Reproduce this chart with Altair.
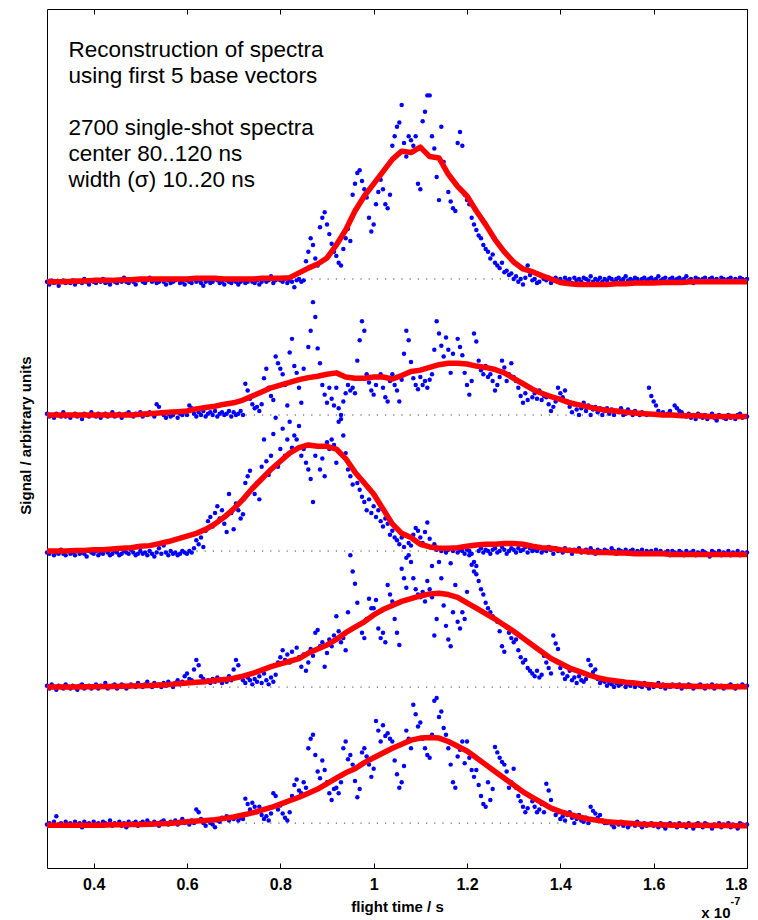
import altair as alt
import numpy as np
import pandas as pd

# ---------------- data ----------------
X_DOMAIN = [0.3, 1.8]
Y_DOMAIN = [-0.33, 5.985]
X_TICKS = [0.4, 0.6, 0.8, 1.0, 1.2, 1.4, 1.6, 1.8]
RED_X0, RED_STEP = 0.3, 0.02      # x grid of the reconstructions
BLUE_X0, BLUE_STEP = 0.3, 0.005   # x grid of the single-shot samples
OFFSETS = [4, 3, 2, 1, 0]         # vertical offset of each spectrum (top -> bottom)

RED_1 = [-0.02, -0.02, -0.02, -0.015, -0.015, -0.01, -0.01, -0.01, -0.005, -0.005,
         0.0, 0.0, 0.0, 0.0, 0.0, 0.0, 0.005, 0.005, 0.005, 0.0,
         0.0, 0.0, 0.0, 0.005, 0.005, 0.005, 0.01, 0.045, 0.08, 0.11,
         0.155, 0.25, 0.36, 0.50, 0.61, 0.70, 0.79, 0.88, 0.94, 0.93,
         0.97, 0.90, 0.89, 0.77, 0.68, 0.61, 0.50, 0.40, 0.29, 0.20,
         0.125, 0.074, 0.054, 0.025, 0.0, -0.025, -0.035, -0.04, -0.04, -0.04,
         -0.04, -0.035, -0.035, -0.03, -0.03, -0.03, -0.025, -0.025, -0.025, -0.02,
         -0.02, -0.02, -0.02, -0.02, -0.02, -0.02]
RED_2 = [0.0, 0.0, 0.0, 0.0, 0.0, 0.0, 0.0, 0.0, 0.0, 0.0,
         0.005, 0.01, 0.015, 0.02, 0.025, 0.03, 0.045, 0.055, 0.065, 0.08,
         0.09, 0.11, 0.14, 0.17, 0.20, 0.22, 0.24, 0.26, 0.275, 0.285,
         0.30, 0.31, 0.28, 0.27, 0.27, 0.28, 0.28, 0.265, 0.29, 0.32,
         0.33, 0.35, 0.37, 0.38, 0.38, 0.375, 0.36, 0.35, 0.335, 0.31,
         0.27, 0.23, 0.19, 0.16, 0.135, 0.115, 0.09, 0.075, 0.06, 0.045,
         0.035, 0.03, 0.02, 0.015, 0.01, 0.005, 0.0, 0.0, -0.005, -0.005,
         -0.005, -0.01, -0.01, -0.01, -0.01, -0.01]
RED_3 = [0.0, 0.0, 0.0, 0.005, 0.005, 0.01, 0.01, 0.015, 0.02, 0.025,
         0.035, 0.04, 0.055, 0.07, 0.09, 0.11, 0.13, 0.16, 0.20, 0.25,
         0.31, 0.38, 0.46, 0.53, 0.60, 0.66, 0.72, 0.76, 0.78, 0.77,
         0.77, 0.75, 0.68, 0.58, 0.50, 0.42, 0.31, 0.20, 0.13, 0.10,
         0.05, 0.03, 0.02, 0.02, 0.025, 0.035, 0.045, 0.05, 0.05, 0.055,
         0.055, 0.05, 0.035, 0.025, 0.02, 0.01, 0.005, 0.0, -0.005, -0.01,
         -0.01, -0.015, -0.015, -0.02, -0.02, -0.02, -0.02, -0.025, -0.025, -0.025,
         -0.025, -0.025, -0.025, -0.025, -0.025, -0.025]
RED_4 = [0.0, 0.0, 0.0, 0.0, 0.002, 0.003, 0.004, 0.005, 0.006, 0.008,
         0.01, 0.012, 0.015, 0.018, 0.025, 0.03, 0.035, 0.04, 0.05, 0.055,
         0.065, 0.08, 0.10, 0.125, 0.15, 0.17, 0.19, 0.21, 0.25, 0.28,
         0.31, 0.35, 0.40, 0.44, 0.48, 0.53, 0.57, 0.60, 0.63, 0.65,
         0.67, 0.685, 0.69, 0.68, 0.66, 0.62, 0.58, 0.54, 0.50, 0.455,
         0.41, 0.36, 0.31, 0.26, 0.21, 0.175, 0.14, 0.115, 0.09, 0.07,
         0.055, 0.045, 0.035, 0.03, 0.02, 0.015, 0.01, 0.01, 0.008, 0.006,
         0.005, 0.005, 0.004, 0.003, 0.003, 0.002]
RED_5 = [-0.015, -0.015, -0.015, -0.015, -0.015, -0.015, -0.015, -0.012, -0.012, -0.01,
         -0.01, -0.008, -0.005, -0.002, 0.003, 0.01, 0.015, 0.02, 0.025, 0.035,
         0.045, 0.06, 0.075, 0.095, 0.115, 0.14, 0.165, 0.19, 0.22, 0.25,
         0.29, 0.33, 0.37, 0.40, 0.445, 0.48, 0.515, 0.55, 0.58, 0.61,
         0.625, 0.63, 0.625, 0.60, 0.565, 0.53, 0.48, 0.43, 0.38, 0.33,
         0.28, 0.23, 0.19, 0.15, 0.11, 0.085, 0.065, 0.045, 0.03, 0.02,
         0.01, 0.005, 0.0, -0.005, -0.01, -0.01, -0.012, -0.015, -0.015, -0.015,
         -0.015, -0.018, -0.018, -0.018, -0.02, -0.02]

BLUE_1 = [-0.02, -0.04, -0.01, -0.03, -0.02, -0.05, -0.02, -0.01, -0.03, -0.02,
          -0.03, -0.01, -0.04, -0.02, -0.02, -0.03, 0.0, -0.02, -0.04, -0.01,
          -0.02, -0.03, -0.01, -0.02, 0.0, -0.03, -0.02, -0.04, -0.01, -0.02,
          -0.03, -0.01, -0.02, 0.01, -0.02, -0.03, -0.01, -0.02, -0.04, -0.01,
          0.0, -0.02, -0.03, -0.01, 0.01, -0.02, -0.01, -0.03, -0.02, 0.0,
          -0.02, -0.04, -0.01, -0.03, -0.02, -0.01, 0.0, -0.03, -0.02, -0.04,
          -0.01, -0.02, -0.03, 0.0, -0.02, -0.01, -0.03, -0.05, -0.02, -0.01,
          -0.03, -0.02, 0.0, -0.01, -0.03, -0.02, -0.04, -0.01, -0.02, -0.03,
          -0.01, -0.02, -0.04, -0.02, -0.01, -0.03, -0.02, 0.0, -0.02, -0.03,
          -0.01, -0.04, -0.02, 0.0, -0.02, -0.01, 0.02, -0.03, -0.01, 0.0,
          -0.01, -0.02, 0.0, -0.03, -0.01, -0.02, -0.06, -0.01, 0.0, -0.02,
          -0.01, 0.13, 0.20, 0.30, 0.25, 0.15, 0.10, 0.38, 0.45, 0.49,
          0.40, 0.33, 0.26, 0.20, 0.17, 0.12, 0.10, 0.22, 0.30, 0.37,
          0.28, 0.62, 0.70, 0.78, 0.80, 0.72, 0.66, 0.60, 0.45, 0.35,
          0.40, 0.55, 0.64, 0.73, 0.66, 0.55, 0.52, 0.62, 0.98, 1.05,
          1.12, 1.15, 1.28, 1.00, 0.90, 1.05, 1.02, 0.98, 1.05, 0.70,
          0.66, 1.16, 1.23, 1.35, 1.35, 1.05, 0.96, 0.75, 0.58, 1.12,
          0.86, 0.80, 0.64, 0.57, 0.52, 0.50, 1.00, 1.08, 0.98, 0.62,
          0.58, 0.55, 0.45, 0.40, 0.36, 0.32, 0.30, 0.25, 0.22, 0.20,
          0.15, 0.18, 0.12, 0.10, 0.08, 0.12, 0.05, 0.06, 0.03, 0.04,
          0.0, 0.02, -0.02, 0.0, -0.04, 0.01, 0.10, 0.03, -0.01, 0.0,
          -0.03, -0.02, 0.02, 0.0, -0.01, 0.01, -0.03, 0.0, 0.01, -0.01,
          0.0, -0.02, 0.01, -0.01, 0.0, -0.03, 0.01, -0.01, 0.0, -0.02,
          0.01, 0.0, -0.01, 0.02, -0.02, 0.0, -0.01, 0.01, -0.02, 0.0,
          -0.01, 0.01, 0.0, -0.02, 0.0, 0.01, -0.01, 0.0, 0.02, -0.01,
          0.0, -0.01, 0.01, 0.0, -0.02, 0.0, 0.01, -0.01, 0.0, 0.01,
          -0.01, 0.0, 0.02, -0.01, 0.0, 0.01, -0.02, 0.0, 0.01, -0.01,
          0.0, 0.01, -0.01, 0.0, 0.02, -0.01, 0.0, -0.03, 0.01, 0.0,
          -0.01, 0.0, 0.01, -0.02, 0.0, 0.01, -0.01, 0.0, -0.02, 0.01,
          0.0, -0.01, 0.0, 0.01, -0.02, 0.0, -0.01, 0.01, 0.0, -0.01,
          0.0]
BLUE_2 = [0.01, -0.01, 0.0, -0.02, 0.01, 0.0, -0.01, 0.02, -0.01, 0.0,
          -0.02, 0.0, 0.01, -0.01, 0.0, -0.03, 0.01, 0.0, -0.01, 0.02,
          0.0, -0.01, 0.01, -0.02, 0.0, 0.01, -0.01, 0.0, 0.02, -0.01,
          0.0, 0.01, -0.02, 0.0, 0.01, 0.02, 0.0, -0.01, 0.01, 0.0,
          0.02, -0.01, 0.01, 0.0, 0.02, 0.01, -0.01, 0.08, 0.06, 0.02,
          0.0, -0.02, 0.01, -0.01, 0.0, 0.02, -0.02, 0.01, 0.0, 0.02,
          0.0, 0.07, 0.05, 0.01, -0.01, 0.02, 0.0, 0.03, -0.01, 0.01,
          0.02, 0.0, 0.03, -0.01, 0.01, 0.02, 0.0, 0.01, 0.03, -0.01,
          0.02, 0.0, 0.01, 0.03, 0.0, 0.23, 0.18, 0.12, 0.08, 0.05,
          0.06, 0.03, 0.08, 0.27, 0.34, 0.20, 0.14, 0.11, 0.43, 0.38,
          0.34, 0.30, 0.22, 0.07, 0.46, 0.56, 0.36, 0.31, 0.20, 0.09,
          0.34, 0.27, 0.50, 0.62, 0.83, 0.72, 0.49, 0.38, 0.22, 0.15,
          0.09, 0.20, 0.12, 0.07, 0.20, 0.05, -0.03, 0.10, 0.16, 0.22,
          0.18, 0.20, 0.16, 0.40, 0.55, 0.69, 0.62, 0.30, 0.24, 0.18,
          0.15, 0.22, 0.28, 0.30, 0.20, 0.13, 0.10, 0.25, 0.30, 0.22,
          0.18, 0.10, 0.26, 0.45, 0.62, 0.55, 0.39, 0.27, 0.22, 0.19,
          0.28, 0.22, 0.25, 0.20, 0.26, 0.30, 0.48, 0.69, 0.60, 0.51,
          0.43, 0.57, 0.48, 0.31, 0.45, 0.38, 0.56, 0.50, 0.44, 0.31,
          0.22, 0.15, 0.25, 0.60, 0.54, 0.40, 0.33, 0.30, 0.36, 0.28,
          0.30, 0.25, 0.18, 0.22, 0.28, 0.40, 0.35, 0.25, 0.30, 0.38,
          0.28, 0.25, 0.20, 0.14, 0.09, 0.16, 0.11, 0.20, 0.13, 0.16,
          0.12, 0.18, 0.11, 0.14, 0.13, 0.08, 0.03, 0.06, 0.10, 0.20,
          0.16, 0.13, 0.18, 0.10, 0.06, 0.02, 0.08, 0.04, 0.0, 0.05,
          0.09, 0.03, 0.07, 0.0, 0.04, 0.06, 0.02, 0.05, 0.0, 0.03,
          0.05, 0.01, 0.04, 0.0, 0.03, 0.02, 0.05, 0.0, 0.01, 0.04,
          0.02, 0.0, 0.03, 0.01, 0.0, 0.02, 0.01, 0.0, 0.20, 0.14,
          0.10, 0.07, 0.03, 0.01, 0.02, 0.0, 0.01, 0.03, 0.0, 0.07,
          0.05, 0.03, 0.02, 0.0, -0.01, 0.01, -0.02, 0.0, -0.03, 0.01,
          -0.01, -0.02, 0.0, -0.03, -0.01, 0.01, -0.02, -0.04, 0.0, -0.01,
          -0.02, -0.03, 0.0, -0.02, -0.01, -0.03, 0.0, 0.01, -0.02, -0.01,
          -0.01]
BLUE_3 = [-0.01, -0.02, 0.0, -0.03, -0.01, -0.02, 0.01, -0.02, -0.03, 0.0,
          -0.02, -0.01, -0.03, 0.0, -0.02, -0.01, -0.02, -0.04, 0.0, -0.01,
          -0.02, 0.0, -0.03, -0.01, -0.02, 0.01, -0.01, -0.03, -0.02, 0.0,
          -0.01, -0.03, -0.02, 0.0, -0.01, -0.02, 0.01, -0.01, -0.03, -0.02,
          0.0, -0.02, -0.01, -0.03, 0.0, -0.02, -0.04, -0.01, 0.02, -0.02,
          0.04, -0.01, -0.03, 0.0, -0.02, -0.01, -0.03, -0.02, 0.0, -0.01,
          -0.02, 0.0, -0.01, 0.02, 0.08, 0.05, 0.10, 0.03, 0.15, 0.22,
          0.25, 0.18, 0.28, 0.33, 0.24, 0.30, 0.20, 0.14, 0.42, 0.28,
          0.16, 0.35, 0.30, 0.24, 0.27, 0.50, 0.55, 0.59, 0.46, 0.42,
          0.50, 0.38, 0.62, 0.82, 0.66, 0.56, 0.70, 0.86, 0.98, 0.62,
          0.75, 0.90, 0.70, 0.82, 0.95, 0.76, 0.85, 0.82, 0.92, 0.70,
          0.75, 0.65, 0.60, 0.53, 0.36, 0.70, 0.77, 0.60, 0.68, 0.55,
          0.80, 0.75, 0.82, 0.78, 0.65, 0.95, 1.00, 0.85, 0.72, 0.60,
          0.55, 0.49, 0.58, 0.50, 0.45, 0.40, 0.36, 0.30, 0.38, 0.28,
          0.33, 0.25, 0.30, 0.22, 0.18, 0.24, 0.20, 0.12, 0.15, 0.10,
          0.08, 0.05, 0.10, 0.03, -0.05, 0.06, 0.04, 0.12, 0.17, 0.15,
          0.10, 0.06, 0.14, 0.21, 0.09, -0.11, 0.05, 0.01, 0.02, 0.0,
          0.02, -0.01, 0.01, -0.09, 0.0, 0.02, -0.01, 0.01, 0.0, -0.02,
          0.01, 0.0, -0.02, -0.08, -0.11, 0.0, 0.02, -0.01, 0.01, 0.0,
          -0.02, 0.01, 0.02, -0.01, 0.0, 0.03, 0.01, -0.02, 0.0, 0.02,
          0.01, -0.01, 0.02, 0.0, 0.01, 0.03, -0.01, 0.02, 0.0, 0.01,
          0.0, 0.02, -0.01, 0.01, 0.0, 0.03, 0.01, -0.02, 0.02, 0.0,
          0.01, -0.01, 0.02, 0.0, 0.01, -0.02, 0.01, 0.0, 0.02, -0.01,
          0.0, 0.01, -0.01, 0.02, 0.0, -0.02, 0.01, 0.0, -0.01, 0.01,
          0.0, -0.01, 0.02, 0.0, -0.02, 0.01, 0.0, -0.01, 0.01, -0.02,
          0.0, 0.01, -0.02, 0.0, -0.01, 0.01, -0.02, 0.0, -0.01, 0.0,
          -0.02, 0.01, -0.01, 0.0, -0.02, -0.01, 0.0, -0.03, 0.0, -0.01,
          -0.02, 0.0, -0.01, -0.03, 0.0, -0.02, -0.01, 0.0, -0.03, -0.01,
          -0.02, 0.0, -0.01, -0.02, -0.04, 0.0, -0.01, -0.02, 0.0, -0.03,
          -0.01, -0.02, 0.0, -0.03, -0.01, -0.02, 0.0, -0.03, -0.01, -0.02,
          -0.01]
BLUE_4 = [0.01, -0.01, 0.02, 0.0, -0.02, 0.01, 0.0, -0.01, 0.02, 0.0,
          -0.01, 0.01, 0.0, -0.02, 0.01, 0.02, -0.01, 0.0, 0.01, -0.01,
          0.0, 0.02, -0.01, 0.01, 0.0, 0.03, -0.01, 0.0, 0.01, 0.02,
          -0.01, 0.0, 0.02, 0.01, -0.01, 0.0, 0.02, 0.01, 0.0, 0.03,
          0.01, 0.0, 0.02, 0.04, 0.01, 0.0, 0.03, 0.01, 0.02, 0.0,
          0.03, 0.01, 0.04, 0.02, 0.0, 0.03, 0.05, 0.02, 0.04, 0.08,
          0.10, 0.06, 0.05, 0.13, 0.20, 0.16, 0.08, 0.06, 0.04, 0.05,
          0.03, 0.06, 0.04, 0.07, 0.05, 0.03, 0.06, 0.04, 0.08, 0.05,
          0.13, 0.20, 0.16, 0.08, 0.05, 0.03, 0.07, 0.05, 0.02, 0.06,
          0.04, 0.08, 0.03, 0.10, 0.05, 0.02, 0.07, 0.04, 0.09, 0.18,
          0.22, 0.27, 0.20, 0.24, 0.18, 0.26, 0.20, 0.29, 0.22, 0.15,
          0.24, 0.12, 0.18, 0.28, 0.23, 0.40, 0.42, 0.30, 0.33, 0.15,
          0.25, 0.35, 0.30, 0.38, 0.52, 0.41, 0.33, 0.36, 0.27, 0.55,
          0.97, 0.85, 0.76, 0.62, 0.46, 0.40, 0.36, 0.50, 0.65, 0.58,
          0.58, 0.64, 0.43, 0.36, 0.40, 0.33, 0.75, 0.68, 0.63, 0.50,
          0.40, 0.31, 0.87, 0.80, 0.73, 0.97, 0.92, 0.80, 0.72, 0.68,
          0.66, 0.70, 0.63, 0.78, 0.72, 0.66, 0.38, 0.50, 0.92, 0.80,
          0.60, 0.45, 0.35, 0.30, 0.55, 0.75, 0.48, 0.43, 0.55, 0.50,
          0.70, 0.97, 0.90, 0.85, 0.83, 0.78, 0.72, 0.68, 0.62, 0.58,
          0.55, 0.52, 0.50, 0.48, 0.41, 0.30, 0.26, 0.44, 0.40, 0.36,
          0.33, 0.35, 0.27, 0.22, 0.18, 0.20, 0.14, 0.12, 0.10, 0.08,
          0.12, 0.07, 0.09, 0.23, 0.18, 0.14, 0.10, 0.38, 0.32, 0.28,
          0.14, 0.10, 0.06, 0.08, 0.12, 0.05, 0.07, 0.03, 0.08, 0.05,
          0.04, 0.06, 0.20, 0.16, 0.11, 0.13, 0.06, 0.03, 0.05, 0.04,
          0.01, 0.03, 0.02, 0.0, 0.03, 0.01, 0.02, 0.04, 0.0, 0.02,
          0.01, 0.03, 0.0, 0.02, 0.01, 0.0, 0.03, 0.01, -0.01, 0.02,
          0.0, 0.01, 0.03, 0.0, 0.02, -0.01, 0.01, 0.0, 0.02, 0.01,
          0.0, 0.02, -0.01, 0.01, 0.0, 0.02, 0.01, -0.01, 0.0, 0.01,
          0.02, 0.0, -0.01, 0.01, 0.0, 0.02, -0.01, 0.01, 0.0, 0.01,
          -0.01, 0.0, 0.01, 0.02, 0.0, -0.01, 0.01, 0.0, 0.02, 0.0,
          0.01]
BLUE_5 = [-0.01, 0.0, -0.02, 0.01, 0.05, -0.01, 0.0, -0.02, 0.01, -0.01,
          0.0, -0.02, 0.01, -0.01, 0.0, -0.03, 0.01, -0.01, 0.0, -0.02,
          0.01, -0.01, 0.0, -0.02, 0.01, 0.0, -0.01, 0.02, -0.02, 0.0,
          -0.01, 0.01, -0.02, 0.0, -0.03, 0.01, -0.01, 0.0, 0.01, -0.02,
          0.0, 0.01, -0.01, 0.02, 0.0, -0.01, 0.01, 0.0, -0.02, 0.01,
          0.02, 0.0, -0.01, 0.01, 0.0, 0.02, -0.01, 0.01, 0.03, 0.0,
          0.01, -0.01, 0.02, 0.0, 0.10, 0.08, 0.03, 0.0, -0.02, 0.02,
          0.0, -0.01, -0.03, 0.02, 0.01, 0.04, 0.03, 0.05, 0.02, 0.04,
          0.03, 0.05, 0.02, 0.04, 0.03, 0.18, 0.14, 0.10, 0.15, 0.12,
          0.08, 0.12, 0.06, 0.03, 0.05, 0.02, 0.07, 0.22, 0.20, 0.10,
          0.13, 0.07, 0.04, 0.02, 0.08, 0.20, 0.28, 0.32, 0.24, 0.22,
          0.30, 0.26, 0.55, 0.62, 0.65, 0.50, 0.38, 0.33, 0.46, 0.39,
          0.30, 0.22, 0.17, 0.25, 0.26, 0.22, 0.30, 0.55, 0.60, 0.47,
          0.50, 0.43, 0.31, 0.19, 0.25, 0.52, 0.55, 0.49, 0.43, 0.34,
          0.40, 0.75, 0.68, 0.60, 0.72, 0.64, 0.66, 0.62, 0.60, 0.46,
          0.36, 0.26, 0.30, 0.42, 0.68, 0.62, 0.55, 0.87, 0.80, 0.71,
          0.74, 0.62, 0.55, 0.50, 0.48, 0.65, 0.90, 0.92, 0.78, 0.82,
          0.70, 0.65, 0.55, 0.43, 0.30, 0.26, 0.49, 0.54, 0.60, 0.44,
          0.60, 0.48, 0.39, 0.34, 0.39, 0.28, 0.20, 0.14, 0.12, 0.30,
          0.17, 0.25, 0.56, 0.52, 0.48, 0.45, 0.43, 0.38, 0.26, 0.30,
          0.40, 0.26, 0.20, 0.16, 0.12, 0.08, 0.11, 0.20, 0.16, 0.12,
          0.08, 0.10, 0.14, 0.08, 0.29, 0.24, 0.17, 0.10, 0.06, 0.08,
          0.03, 0.05, 0.02, 0.06, 0.08, 0.04, 0.0, 0.03, 0.06, 0.02,
          0.01, 0.04, 0.0, 0.12, 0.09, 0.07, 0.04, 0.06, 0.02, 0.0,
          0.0, 0.01, -0.01, -0.03, 0.0, -0.01, 0.01, -0.02, 0.0, -0.03,
          -0.01, 0.0, -0.02, 0.01, -0.01, -0.03, 0.0, -0.02, -0.01, 0.0,
          -0.02, -0.01, -0.03, 0.0, -0.02, -0.04, -0.01, 0.0, -0.02, -0.01,
          -0.03, 0.0, -0.02, -0.01, -0.03, 0.0, -0.02, -0.04, -0.01, 0.0,
          -0.02, -0.03, 0.0, -0.01, -0.02, -0.04, -0.01, -0.02, 0.0, -0.03,
          -0.01, -0.02, 0.0, -0.03, -0.01, -0.02, -0.04, 0.0, -0.01, -0.02,
          -0.01]

NOTE_BLOCK_1 = ["Reconstruction of spectra", "using first 5 base vectors"]
NOTE_BLOCK_2 = ["2700 single-shot spectra", "center 80..120 ns", "width (\u03c3) 10..20 ns"]
X_TITLE = "flight time / s"
Y_TITLE = "Signal / arbitrary units"
EXP_BASE = "x 10"
EXP_POWER = "-7"

# ---------------- tables ----------------
REDS = [RED_1, RED_2, RED_3, RED_4, RED_5]
BLUES = [BLUE_1, BLUE_2, BLUE_3, BLUE_4, BLUE_5]

red_rows, blue_rows = [], []
for k, (red, blue, off) in enumerate(zip(REDS, BLUES, OFFSETS)):
    for i, v in enumerate(red):
        red_rows.append({"spectrum": k + 1, "x": RED_X0 + RED_STEP * i, "y": v + off})
    for i, v in enumerate(blue):
        blue_rows.append({"spectrum": k + 1, "x": BLUE_X0 + BLUE_STEP * i, "y": v + off})
red_df = pd.DataFrame(red_rows)
blue_df = pd.DataFrame(blue_rows)
base_df = pd.DataFrame({"y": OFFSETS})

W, H = 700, 859
FONT = "Liberation Sans"
LINE_H = 25.9

x_scale = alt.Scale(domain=X_DOMAIN, nice=False, zero=False)
y_scale = alt.Scale(domain=Y_DOMAIN, nice=False, zero=False)

x_bottom = alt.X("x:Q", scale=x_scale, title=X_TITLE,
                 axis=alt.Axis(orient="bottom", values=X_TICKS, format="~g", offset=-5,
                               tickSize=5, tickColor="black", domain=False, grid=False,
                               labelFont=FONT, labelFontSize=16, labelFontWeight="bold",
                               labelColor="black", labelPadding=8,
                               titleFont=FONT, titleFontSize=15, titleFontWeight="bold",
                               titleColor="black", titleY=48, titleBaseline="alphabetic"))
y_enc = alt.Y("y:Q", scale=y_scale, title=Y_TITLE,
              axis=alt.Axis(labels=False, ticks=False, domain=False, grid=False,
                            titleFont=FONT, titleFontSize=15, titleFontWeight="bold",
                            titleColor="black", titleAngle=270, titleX=-22, titleY=426,
                            titleAlign="center", titleBaseline="middle"))

baselines = alt.Chart(base_df).mark_rule(color="#444444", strokeWidth=1,
                                         strokeDash=[1.2, 7]).encode(y=y_enc)

dots = alt.Chart(blue_df).mark_circle(size=20, color="#0000FF", opacity=1).encode(
    x=x_bottom, y=y_enc, detail="spectrum:N")

lines = alt.Chart(red_df).mark_line(color="#FF0000", strokeWidth=5.5, strokeJoin="round").encode(
    x=x_bottom, y=y_enc, detail="spectrum:N")


def note_block(lines_, y_px):
    return alt.Chart(pd.DataFrame({"t": ["\n".join(lines_)]})).mark_text(
        align="left", baseline="alphabetic", font=FONT, fontSize=22.5, color="black",
        lineBreak="\n", lineHeight=LINE_H).encode(
        x=alt.value(21.5), y=alt.value(y_px), text="t:N")


note1 = note_block(NOTE_BLOCK_1, 48.3)
note2 = note_block(NOTE_BLOCK_2, 48.3 + 3 * LINE_H)

exp_base = alt.Chart(pd.DataFrame({"t": [EXP_BASE]})).mark_text(
    align="left", baseline="alphabetic", font=FONT, fontSize=15, fontWeight="bold",
    color="black").encode(x=alt.value(654.3), y=alt.value(909), text="t:N")
exp_pow = alt.Chart(pd.DataFrame({"t": [EXP_POWER]})).mark_text(
    align="left", baseline="alphabetic", font=FONT, fontSize=11, fontWeight="bold",
    color="black").encode(x=alt.value(683.5), y=alt.value(896), text="t:N")

main = alt.layer(baselines, dots, lines, note1, note2, exp_base, exp_pow)

top_axis = alt.Chart(red_df).mark_point(opacity=0).encode(
    x=alt.X("x:Q", scale=x_scale, title=None,
            axis=alt.Axis(orient="top", values=X_TICKS, labels=False, offset=-5,
                          tickSize=5, tickColor="black", domain=False, grid=False)),
    y=y_enc)

chart = alt.layer(main, top_axis).resolve_axis(x="independent").properties(
    width=W, height=H,
    padding={"left": 47, "top": 9, "right": 11, "bottom": 52},
    autosize=alt.AutoSizeParams(type="none"),
).configure(font=FONT).configure_view(stroke="black", strokeWidth=1)

chart.save("out.html", embed_options={"renderer": "svg", "actions": False})
